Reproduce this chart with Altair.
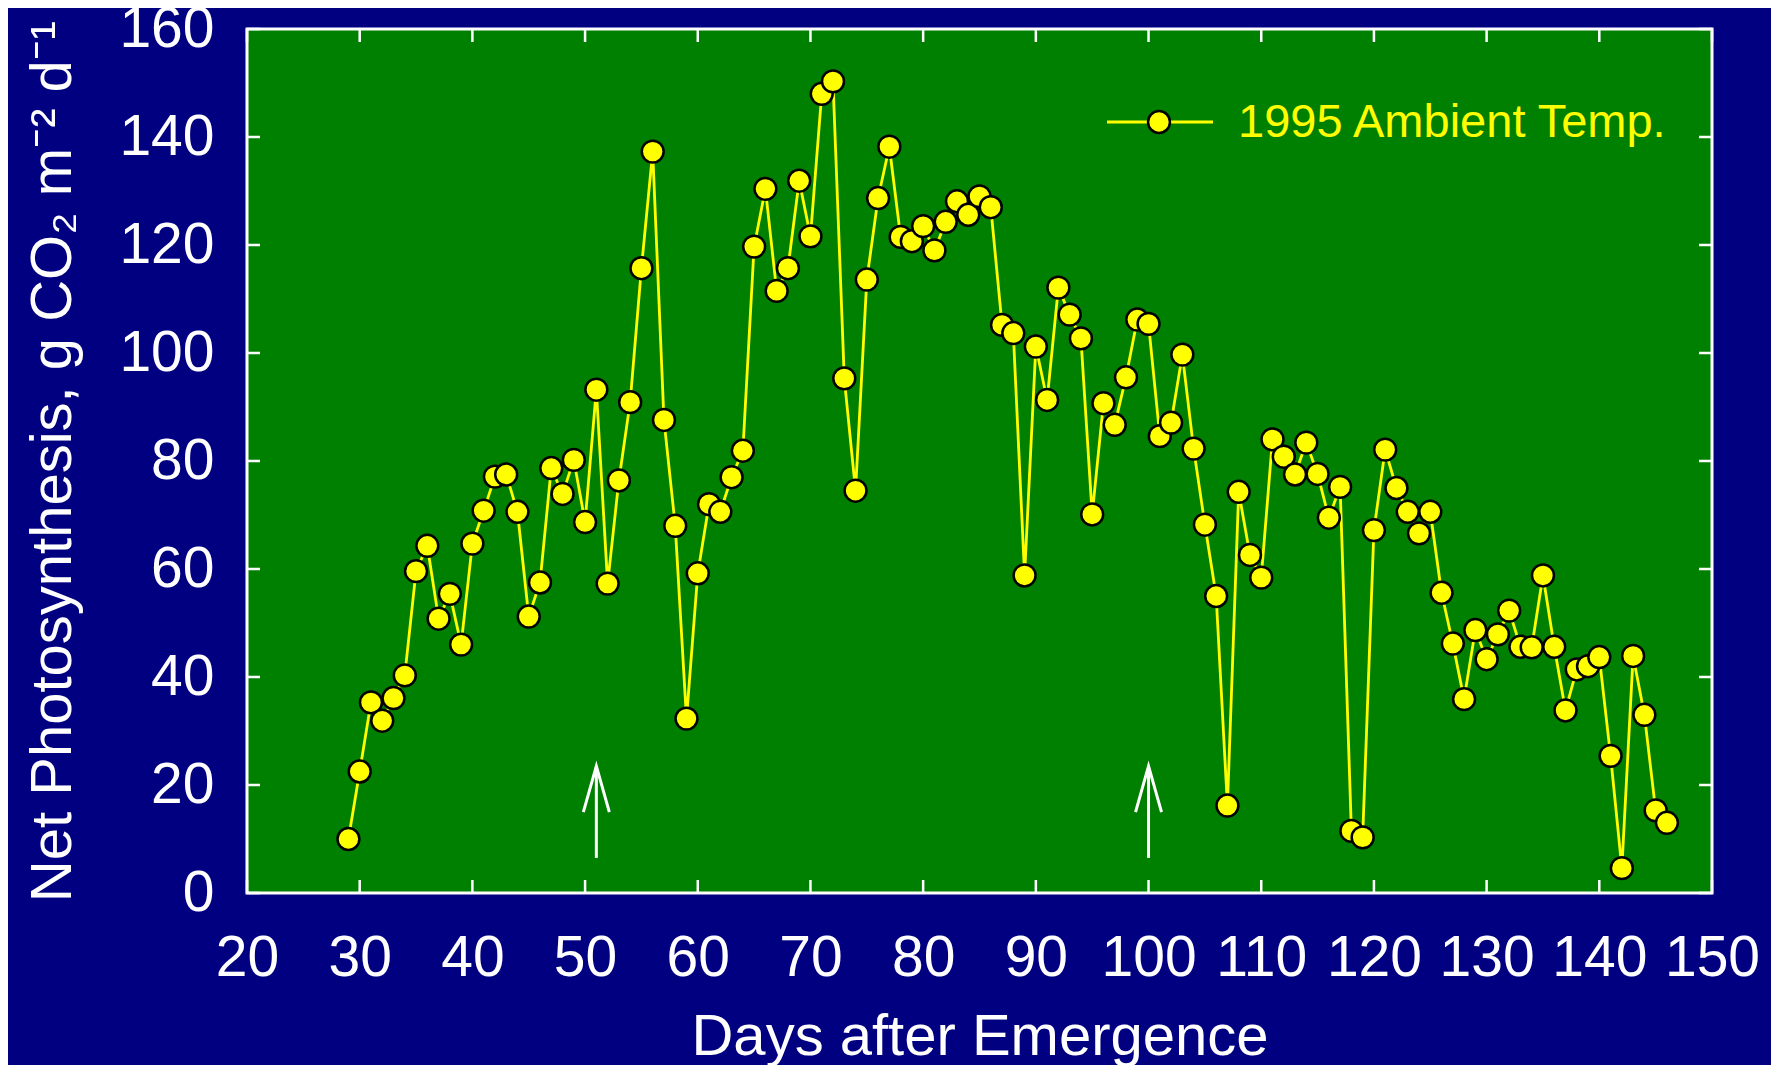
import altair as alt
import pandas as pd

# ---- data ----
days = list(range(29, 147))
net_ps = [
    10, 22.5, 35.3, 31.9, 36.1, 40.3, 59.6, 64.3, 50.8, 55.4,
    46, 64.7, 70.8, 77.1, 77.5, 70.6, 51.2, 57.5, 78.7, 73.9,
    80.2, 68.7, 93.2, 57.3, 76.4, 90.9, 115.7, 137.3, 87.6, 68,
    32.3, 59.2, 72, 70.6, 77, 81.9, 119.7, 130.4, 111.5, 115.7,
    131.9, 121.6, 148, 150.3, 95.3, 74.5, 113.6, 128.7, 138.2, 121.5,
    120.7, 123.5, 119, 124.3, 128.1, 125.6, 129, 127, 105.2, 103.7,
    58.8, 101.2, 91.3, 112.1, 107.1, 102.7, 70.1, 90.7, 86.7, 95.5,
    106.2, 105.4, 84.6, 87.1, 99.7, 82.3, 68.2, 55, 16.2, 74.3,
    62.6, 58.4, 84, 80.8, 77.5, 83.4, 77.6, 69.5, 75.2, 11.5,
    10.3, 67.2, 82.1, 75, 70.6, 66.6, 70.6, 55.6, 46.2, 35.9,
    48.7, 43.3, 47.9, 52.3, 45.6, 45.5, 58.8, 45.6, 33.8, 41.4,
    42, 43.7, 25.4, 4.6, 43.9, 33, 15.3, 13,
]
x_ticks = [20, 30, 40, 50, 60, 70, 80, 90, 100, 110, 120, 130, 140, 150]
y_ticks = [0, 20, 40, 60, 80, 100, 120, 140, 160]
arrow_days = [51, 100]
arrow_low = [6.5, 6.5]
arrow_high = [23.5, 23.5]
legend_label = ["1995 Ambient Temp."]

x_title = "Days after Emergence"
y_title = "Net Photosynthesis, g CO\u2082 m\u207b\u00b2 d\u207b\u00b9"

# ---- styling ----
NAVY = "#000080"
GREEN = "#008000"
YELLOW = "#FFFF00"
WHITE = "#FFFFFF"
FONT = "Liberation Sans"
W, H = 1465, 864

xscale = alt.Scale(domain=[20, 150], nice=False, zero=False)
yscale = alt.Scale(domain=[0, 160], nice=False, zero=False)

df = pd.DataFrame({"day": days, "pn": net_ps})

x_axis = alt.Axis(
    values=x_ticks, format="d",
    labelFont=FONT, labelFontSize=57, labelColor=WHITE,
    labelPadding=82, labelBaseline="alphabetic", labelOverlap=False,
    labelFlush=False, ticks=False, tickSize=0, domain=False, grid=False,
    titleFont=FONT, titleFontSize=58, titleColor=WHITE, titleFontWeight="normal",
    titleBaseline="alphabetic", titleAlign="center", titleX=W / 2, titleY=161,
)
y_axis = alt.Axis(
    values=y_ticks, format="d",
    labelFont=FONT, labelFontSize=57, labelColor=WHITE,
    labelPadding=33, labelAlign="right", labelBaseline="middle",
    labelOverlap=False, labelFlush=False, ticks=False, tickSize=0,
    domain=False, grid=False,
    titleFont=FONT, titleFontSize=58, titleColor=WHITE, titleFontWeight="normal",
    titleAngle=270, titleBaseline="alphabetic", titleAlign="center",
    titleX=-176.5, titleY=H / 2,
)


def X(field):
    return alt.X(field, scale=xscale, axis=x_axis, title=x_title)


def Y(field):
    return alt.Y(field, scale=yscale, axis=y_axis, title=y_title)


line = alt.Chart(df).mark_line(color=YELLOW, strokeWidth=2.8).encode(
    x=X("day:Q"), y=Y("pn:Q"),
)
points = alt.Chart(df).mark_point(
    filled=True, fill=YELLOW, stroke="black", strokeWidth=2.5, size=480, opacity=1
).encode(x=X("day:Q"), y=Y("pn:Q"))

# inward ticks on all four sides
xt = pd.DataFrame({"t": x_ticks})
yt = pd.DataFrame({"t": y_ticks})
tick_style = dict(color=WHITE, strokeWidth=2.5)
xb = alt.Chart(xt).mark_rule(**tick_style).encode(
    x=X("t:Q"), y=alt.value(H), y2=alt.value(H - 13))
xtop = alt.Chart(xt).mark_rule(**tick_style).encode(
    x=X("t:Q"), y=alt.value(0), y2=alt.value(13))
yl = alt.Chart(yt).mark_rule(**tick_style).encode(
    y=Y("t:Q"), x=alt.value(0), x2=alt.value(13))
yr = alt.Chart(yt).mark_rule(**tick_style).encode(
    y=Y("t:Q"), x=alt.value(W), x2=alt.value(W - 13))

# arrows
adf = pd.DataFrame({"day": arrow_days, "low": arrow_low, "high": arrow_high})
shaft = alt.Chart(adf).mark_rule(color=WHITE, strokeWidth=3).encode(
    x=X("day:Q"), y=Y("low:Q"), y2="high:Q",
)
head = alt.Chart(adf).mark_point(
    shape="M-0.565,2L0,0L0.565,2", filled=False, stroke=WHITE,
    strokeWidth=3, size=2116, opacity=1
).encode(x=X("day:Q"), y=Y("high:Q"))

# legend (drawn by hand inside the plot)
ldf = pd.DataFrame({"label": legend_label})
leg_line = alt.Chart(ldf).mark_rule(color=YELLOW, strokeWidth=2.8).encode(
    x=alt.value(860), x2=alt.value(966), y=alt.value(93))
leg_pt = alt.Chart(ldf).mark_point(
    filled=True, fill=YELLOW, stroke="black", strokeWidth=2.5, size=480, opacity=1
).encode(x=alt.value(912), y=alt.value(93))
leg_txt = alt.Chart(ldf).mark_text(
    align="left", baseline="alphabetic", font=FONT, fontSize=47, color=YELLOW
).encode(text="label:N", x=alt.value(991), y=alt.value(108))

chart = alt.layer(
    line, points, xb, xtop, yl, yr, shaft, head, leg_line, leg_pt, leg_txt
).properties(
    width=W, height=H,
    background=NAVY,
    autosize=alt.AutoSizeParams(type="none"),
    padding={"left": 239, "top": 21, "right": 59, "bottom": 172},
).configure_view(
    fill=GREEN, stroke=WHITE, strokeWidth=3
)

chart.save("out.html", embed_options={"renderer": "svg", "actions": False})
